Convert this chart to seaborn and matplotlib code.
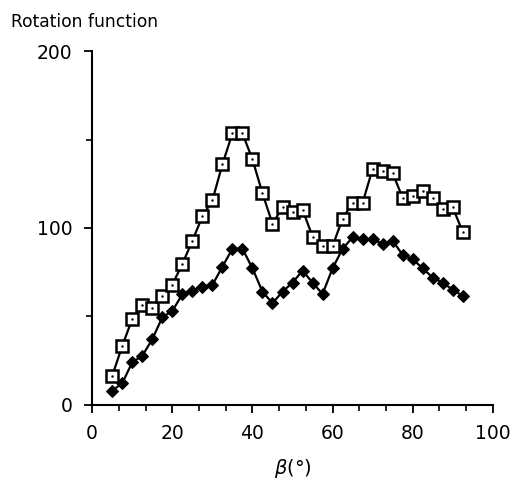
import numpy as np
import pandas as pd
import matplotlib
matplotlib.use("Agg")
import matplotlib.pyplot as plt
from matplotlib.ticker import MultipleLocator
import seaborn as sns

beta = [5 + 2.5 * i for i in range(36)]
open_squares = [16.4, 33.3, 48.6, 56.5, 54.6, 61.6, 68.0, 79.7, 92.7, 106.6,
                115.6, 136.0, 153.5, 153.5, 138.8, 119.6, 102.4, 111.6, 109.2, 110.4,
                95.1, 89.8, 89.8, 105.3, 114.3, 114.3, 133.5, 132.2, 130.9, 117.0,
                118.3, 120.7, 117.0, 110.5, 111.6, 97.6]
filled_diamonds = [8.1, 12.2, 24.1, 27.7, 37.1, 49.5, 53.1, 62.5, 64.4, 66.8,
                   67.8, 78.1, 88.3, 88.3, 77.2, 64.0, 57.5, 64.0, 69.1, 75.9,
                   69.1, 62.7, 77.2, 88.3, 94.7, 93.6, 93.6, 91.0, 92.8, 84.7,
                   82.3, 77.2, 71.9, 69.1, 65.0, 61.6]

df = pd.DataFrame({"beta": beta, "sq": open_squares, "di": filled_diamonds})

sns.set_style("ticks")
plt.rcParams['font.family'] = ['DejaVu Sans']
plt.rcParams['text.color'] = 'black'
plt.rcParams['axes.labelcolor'] = 'black'

fig = plt.figure(figsize=(5.15, 4.82), dpi=100)
ax = fig.add_axes([0.179, 0.16, 0.778, 0.734])

sns.lineplot(data=df, x="beta", y="di", ax=ax, color="black", lw=1.6,
             marker="D", markersize=6.5, markerfacecolor="black",
             markeredgecolor="black", zorder=3)
sns.lineplot(data=df, x="beta", y="sq", ax=ax, color="black", lw=1.6,
             marker="s", markersize=8.5, markerfacecolor="white",
             markeredgecolor="black", markeredgewidth=1.8, zorder=4)
sns.scatterplot(data=df, x="beta", y="sq", ax=ax, color="black", s=3,
                marker="o", linewidth=0, zorder=5)

ax.set_xlim(0, 100)
ax.set_ylim(0, 200)
ax.set_xticks([0, 20, 40, 60, 80, 100])
ax.xaxis.set_minor_locator(MultipleLocator(20 / 3))
ax.set_yticks([0, 100, 200])
ax.yaxis.set_minor_locator(MultipleLocator(50))
ax.tick_params(axis="both", which="major", direction="out", length=6,
               width=1.3, labelsize=13.5, colors="black", pad=8)
ax.tick_params(axis="both", which="minor", direction="out", length=4,
               width=1.2, colors="black")
for s in ["left", "bottom"]:
    ax.spines[s].set_linewidth(1.5)
    ax.spines[s].set_color("black")
sns.despine(ax=ax)

ax.set_xlabel(r"$\beta$(°)", fontsize=14, labelpad=10, color="black")
ax.set_ylabel("")
fig.text(0.022, 0.954, "Rotation function", fontsize=12.3, ha="left",
         va="center", color="black")

fig.savefig("out.png", dpi=100)
